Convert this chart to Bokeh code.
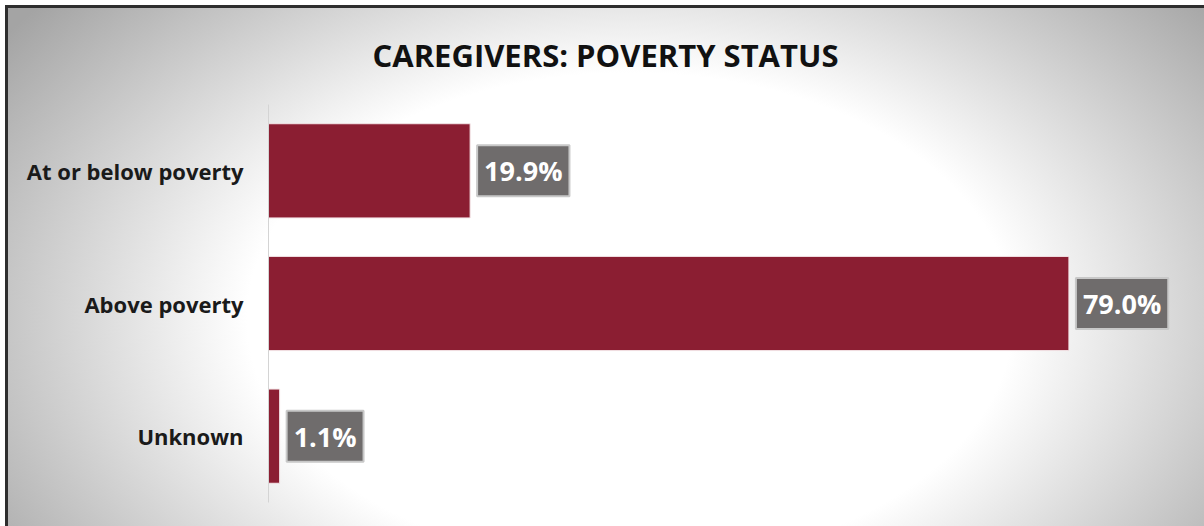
from bokeh.plotting import figure
from bokeh.models import ColumnDataSource, FactorRange, Range1d
from bokeh.core.properties import value
from bokeh.embed import file_html
from bokeh.resources import INLINE

categories = ["At or below poverty", "Above poverty", "Unknown"]
values = [19.9, 79.0, 1.1]
value_labels = [f"{v:.1f}%" for v in values]

source = ColumnDataSource(data=dict(cat=categories, val=values, lab=value_labels))

bg = ("linear-gradient(#2e2e2e,#2e2e2e) 5px 5px / 3px 100% no-repeat, "
      "linear-gradient(#2e2e2e,#2e2e2e) 5px 5px / 100% 3px no-repeat, "
      "radial-gradient(ellipse 64% 95% at 52% 60%, #ffffff 50%, #a4a4a4 100%) 8px 8px / calc(100% - 8px) calc(100% - 8px) no-repeat, "
      "#ffffff")

p = figure(width=1204, height=526, output_backend="svg", toolbar_location=None,
           y_range=FactorRange(factors=list(reversed(categories)), range_padding=0),
           x_range=Range1d(0, 91),
           min_border_left=268, min_border_right=14, min_border_top=104, min_border_bottom=24,
           title="CAREGIVERS: POVERTY STATUS")
p.styles = {"background": bg}
p.background_fill_color = None
p.border_fill_color = None
p.outline_line_color = None

p.title.text_font = "Open Sans"
p.title.text_font_style = "bold"
p.title.text_font_size = "31px"
p.title.text_color = "#111111"
p.title.align = "left"
p.title.offset = 104
p.title.standoff = 58

p.hbar(y="cat", left=0, right="val", height=0.71, source=source,
       fill_color="#8b1e32", line_color="#f4e6e8", line_width=1)

p.text(x="val", y="cat", text="lab", source=source, x_offset=7,
       text_align="left", text_baseline="middle",
       text_font=value("Open Sans"), text_font_style="bold", text_font_size="27px",
       text_color="#ffffff", background_fill_color="#6f6c6c",
       border_line_color="#c8c8c8", border_line_width=2, padding=7)

p.xaxis.visible = False
p.xgrid.grid_line_color = None
p.ygrid.grid_line_color = None
p.yaxis.axis_line_color = "#d4d4d4"
p.yaxis.axis_line_width = 1
p.yaxis.major_tick_line_color = None
p.yaxis.minor_tick_line_color = None
p.yaxis.major_label_standoff = 19
p.yaxis.major_label_text_font = "Open Sans"
p.yaxis.major_label_text_font_style = "bold"
p.yaxis.major_label_text_font_size = "22px"
p.yaxis.major_label_text_color = "#1a1a1a"

open("out.html", "w").write(file_html(p, INLINE))
